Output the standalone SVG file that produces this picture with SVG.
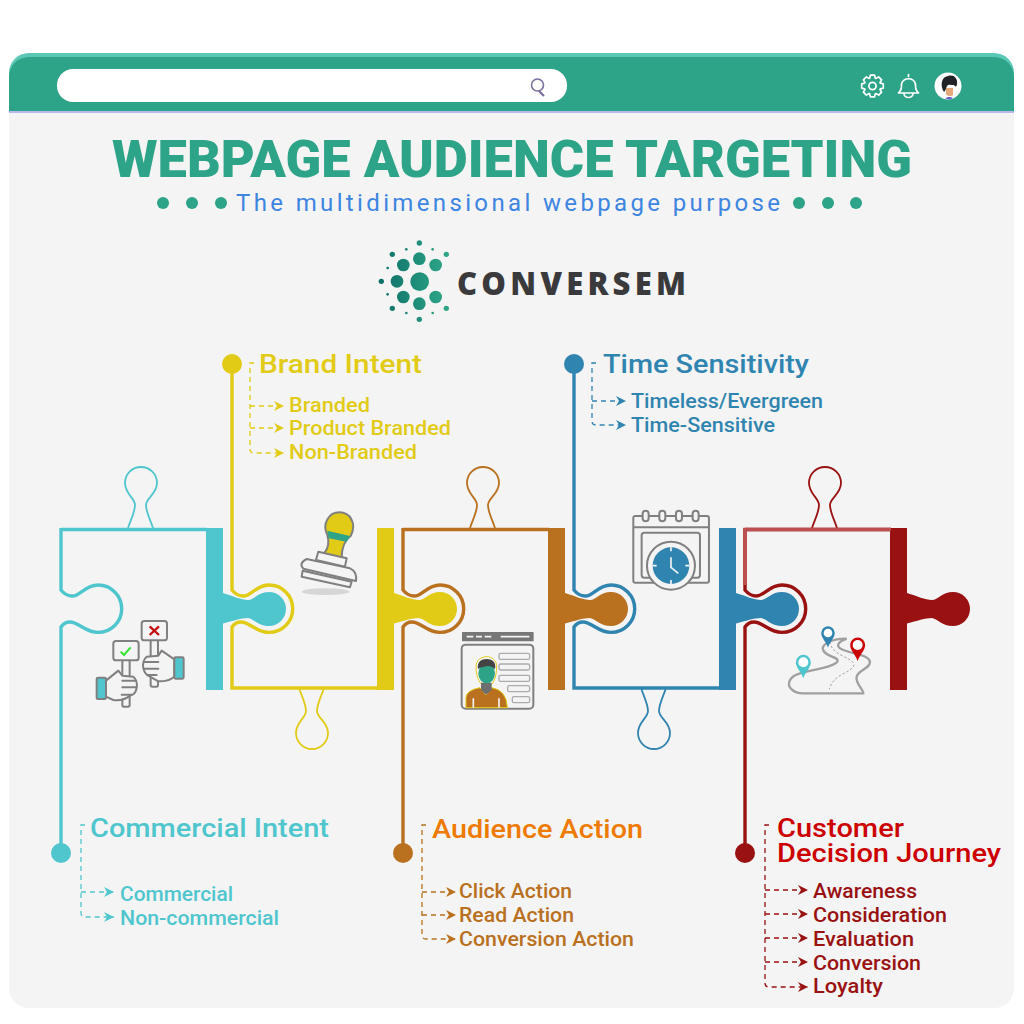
<svg xmlns="http://www.w3.org/2000/svg" width="1024" height="1024" viewBox="0 0 1024 1024">
<style>
text{font-family:"Roboto","Liberation Sans",sans-serif;font-weight:500}
.cyan{color:#4FC6CE}.yellow{color:#E2CB16}.brown{color:#B9701F}.blue{color:#3084B0}.red{color:#991111}
.line{fill:none;stroke:currentColor;stroke-width:3.4}
.tab{fill:none;stroke:currentColor;stroke-width:1.8}
.solid{fill:currentColor;stroke:none}
.h{font-size:25.500px;fill:currentColor}
.i{font-size:19.500px;fill:currentColor}
.dash{fill:none;stroke:currentColor;stroke-width:1.3;stroke-dasharray:5 4}
.ic{fill:#F4F4F4;stroke:#808080;stroke-width:6;stroke-linejoin:round;stroke-linecap:round}
.wl{fill:none;stroke:#fff;stroke-width:1.7;stroke-linejoin:round;stroke-linecap:round}
.dot{fill:#2DA387}
</style>
<defs>
<path id="outTop" d="M146,529.5H0M0,528V590C3,594 8,596 11,596C18,597 24,585 37,585A23.7,23.7 0 0 1 37,632.4C24,632.4 18,622 9,622C5,622 2,624 0,627V853"/>
<path id="outBot" d="M0,364V590C3,594 8,596 11,596C18,597 24,585 37,585A23.7,23.7 0 0 1 37,632.4C24,632.4 18,622 9,622C5,622 2,624 0,627V688H146"/>
<path id="tabTop" d="M67,528C70,519 74,512 74,505C74,498 64,494 64,483A16,16 0 0 1 96,483C96,494 85,498 85,505C85,512 89,519 92,528"/>
<path id="tabBot" d="M67,688C70,697 74,704 74,711C74,718 64,722 64,733A16,16 0 0 0 96,733C96,722 85,718 85,711C85,704 89,697 92,688"/>
<path id="bar" d="M145,528H162V593C172,596 180,600 187,600C193,600 197,592 208,592A17,17 0 0 1 208,626C197,626 193,619 187,618C180,618 172,621 162,623.5V690H145Z"/>
<path id="pin" d="M0,47C-7,27 -22,16 -22,0A22,22 0 1 1 22,0C22,16 7,27 0,47Z"/>
<linearGradient id="lg" gradientUnits="userSpaceOnUse" x1="30" y1="150" x2="235" y2="150"><stop offset="0" stop-color="#0E6F68"/><stop offset="1" stop-color="#2FA888"/></linearGradient>
<marker id="ac" markerUnits="userSpaceOnUse" markerWidth="10" markerHeight="10" refX="10" refY="5" orient="auto"><path d="M0,0L10,5L0,10L3,5Z" fill="#4FC6CE"/></marker>
<marker id="ay" markerUnits="userSpaceOnUse" markerWidth="10" markerHeight="10" refX="10" refY="5" orient="auto"><path d="M0,0L10,5L0,10L3,5Z" fill="#E2CB16"/></marker>
<marker id="ab" markerUnits="userSpaceOnUse" markerWidth="10" markerHeight="10" refX="10" refY="5" orient="auto"><path d="M0,0L10,5L0,10L3,5Z" fill="#B9701F"/></marker>
<marker id="al" markerUnits="userSpaceOnUse" markerWidth="10" markerHeight="10" refX="10" refY="5" orient="auto"><path d="M0,0L10,5L0,10L3,5Z" fill="#3084B0"/></marker>
<marker id="ar" markerUnits="userSpaceOnUse" markerWidth="10" markerHeight="10" refX="10" refY="5" orient="auto"><path d="M0,0L10,5L0,10L3,5Z" fill="#991111"/></marker>
</defs>

<rect width="1024" height="1024" fill="#fff"/>
<rect x="9" y="53" width="1005" height="955" rx="20" fill="#F4F4F4"/>

<g id="browser-bar">
<path d="M9,112V73A20,20 0 0 1 29,53H994A20,20 0 0 1 1014,73V112Z" fill="#5AC8B5"/>
<path d="M9,112V77A20,20 0 0 1 29,57H994A20,20 0 0 1 1014,77V112Z" fill="#2DA387"/>
<rect x="9" y="111" width="1005" height="2" fill="#B9B9EE"/>
<rect x="57" y="69" width="510" height="33" rx="16" fill="#fff"/>
<g fill="none" stroke="#7A6E9E" stroke-width="1.6"><circle cx="537.500" cy="85" r="6"/><path d="M539,91L544,96" stroke-width="2.2"/></g>
<g transform="translate(872.500,86)"><polygon class="wl" points="7.8,-2.84 10.8,-2.1 10.8,2.1 7.8,2.84 7.52,3.51 9.12,6.15 6.15,9.12 3.51,7.52 2.84,7.8 2.1,10.8 -2.1,10.8 -2.84,7.8 -3.51,7.52 -6.15,9.12 -9.12,6.15 -7.52,3.51 -7.8,2.84 -10.8,2.1 -10.8,-2.1 -7.8,-2.84 -7.52,-3.51 -9.12,-6.15 -6.15,-9.12 -3.51,-7.52 -2.84,-7.8 -2.1,-10.8 2.1,-10.8 2.84,-7.8 3.51,-7.52 6.15,-9.12 9.12,-6.15 7.52,-3.51"/><circle class="wl" r="3.600"/></g>
<path class="wl" d="M898.500,93H918.500C915,90 915.500,87 915.500,84A7.300,7.300 0 0 0 901.500,84C901.500,87 902,90 898.500,93ZM904,93.500A4.500,4 0 0 0 913,93.500M908.500,74.500V76.500"/>
<circle cx="948" cy="86" r="13.500" fill="#fff"/>
<path d="M946,94C947,96 951,97 953,95L953,88L946,88Z" fill="#E5A679"/>
<path d="M945,98.500Q949,96 953,98L950,99.500Z" fill="#6A5ACD"/>
<path d="M944,92C940,86 941,77 948,76C955,74 958,80 957,84C957,87 955,87 954,85C951,85 948,84 947,86C946,88 946,90 944,92Z" fill="#1F2226"/>
</g>

<g id="title">
<text x="112" y="177" font-size="51" textLength="800" lengthAdjust="spacingAndGlyphs" style="font-weight:900" fill="#2DA387">WEBPAGE AUDIENCE TARGETING</text>
<text x="236" y="211" font-size="24" textLength="544" style="font-weight:400" fill="#3D85E0">The multidimensional webpage purpose</text>
<circle class="dot" cx="163" cy="203" r="6"/><circle class="dot" cx="192" cy="203" r="6"/><circle class="dot" cx="221" cy="203" r="6"/>
<circle class="dot" cx="799" cy="203" r="6"/><circle class="dot" cx="828" cy="203" r="6"/><circle class="dot" cx="856" cy="203" r="6"/>
</g>

<g id="logo">
<g transform="translate(370,230) scale(.3333)" fill="url(#lg)">
<circle cx="149" cy="155" r="28"/><circle cx="148" cy="86" r="19"/><circle cx="100" cy="105" r="19"/><circle cx="197" cy="105" r="19"/><circle cx="81" cy="154" r="19"/><circle cx="100" cy="201" r="19"/><circle cx="148" cy="221" r="19"/><circle cx="197" cy="201" r="19"/>
<circle cx="148" cy="39" r="8"/><circle cx="67" cy="73" r="8"/><circle cx="229" cy="73" r="8"/><circle cx="34" cy="154" r="8"/><circle cx="67" cy="235" r="8"/><circle cx="229" cy="235" r="8"/><circle cx="148" cy="268" r="8"/>
<circle cx="109" cy="58" r="4"/><circle cx="188" cy="58" r="4"/><circle cx="53" cy="114" r="4"/><circle cx="53" cy="193" r="4"/><circle cx="109" cy="249" r="4"/><circle cx="188" cy="249" r="4"/>
</g>
<text x="457" y="295" font-size="31" textLength="229" style="font-family:'Open Sans','Liberation Sans',sans-serif;font-weight:800" fill="#3A3A3C">CONVERSEM</text>
</g>

<g id="piece-commercial-intent" class="cyan">
<g transform="translate(61,0)"><use href="#outTop" class="line"/><use href="#tabTop" class="tab"/><use href="#bar" class="solid"/></g>
<circle class="solid" cx="61" cy="853" r="10"/>
<text class="h" x="90" y="837" textLength="239" lengthAdjust="spacingAndGlyphs">Commercial Intent</text>
<text class="i" x="120" y="901" textLength="113" lengthAdjust="spacingAndGlyphs">Commercial</text>
<text class="i" x="120" y="925" textLength="159" lengthAdjust="spacingAndGlyphs">Non-commercial</text>
</g>

<g id="piece-brand-intent" class="yellow">
<g transform="translate(232,0)"><use href="#outBot" class="line"/><use href="#tabBot" class="tab"/><use href="#bar" class="solid"/></g>
<circle class="solid" cx="232" cy="364" r="10"/>
<text class="h" x="259" y="373" textLength="163" lengthAdjust="spacingAndGlyphs">Brand Intent</text>
<text class="i" x="289" y="412" textLength="81" lengthAdjust="spacingAndGlyphs">Branded</text>
<text class="i" x="289" y="435" textLength="162" lengthAdjust="spacingAndGlyphs">Product Branded</text>
<text class="i" x="289" y="459" textLength="128" lengthAdjust="spacingAndGlyphs">Non-Branded</text>
</g>

<g id="piece-audience-action" class="brown">
<g transform="translate(403,0)"><use href="#outTop" class="line"/><use href="#tabTop" class="tab"/><use href="#bar" class="solid"/></g>
<circle class="solid" cx="403" cy="853" r="10"/>
<text class="h" x="432" y="838" textLength="211" lengthAdjust="spacingAndGlyphs" style="fill:#EE7A00">Audience Action</text>
<text class="i" x="459" y="898" textLength="113" lengthAdjust="spacingAndGlyphs">Click Action</text>
<text class="i" x="459" y="922" textLength="115" lengthAdjust="spacingAndGlyphs">Read Action</text>
<text class="i" x="459" y="946" textLength="175" lengthAdjust="spacingAndGlyphs">Conversion Action</text>
</g>

<g id="piece-time-sensitivity" class="blue">
<g transform="translate(574,0)"><use href="#outBot" class="line"/><use href="#tabBot" class="tab"/><use href="#bar" class="solid"/></g>
<circle class="solid" cx="574" cy="364" r="10"/>
<text class="h" x="603" y="373" textLength="206" lengthAdjust="spacingAndGlyphs">Time Sensitivity</text>
<text class="i" x="631" y="408" textLength="192" lengthAdjust="spacingAndGlyphs">Timeless/Evergreen</text>
<text class="i" x="631" y="432" textLength="144" lengthAdjust="spacingAndGlyphs">Time-Sensitive</text>
</g>

<g id="piece-customer-decision-journey" class="red">
<g transform="translate(745,0)"><use href="#outTop" class="line"/><use href="#tabTop" class="tab"/><use href="#bar" class="solid"/></g>
<path d="M891,529.500H745V585" fill="none" stroke="#BC5050" stroke-width="3.400"/>
<circle class="solid" cx="745" cy="853" r="10"/>
<text class="h" style="fill:#CC0000"><tspan x="777" y="837" textLength="127" lengthAdjust="spacingAndGlyphs">Customer</tspan><tspan x="777" y="862" textLength="224" lengthAdjust="spacingAndGlyphs">Decision Journey</tspan></text>
<text class="i" x="813" y="898" textLength="104" lengthAdjust="spacingAndGlyphs">Awareness</text>
<text class="i" x="813" y="922" textLength="134" lengthAdjust="spacingAndGlyphs">Consideration</text>
<text class="i" x="813" y="946" textLength="101" lengthAdjust="spacingAndGlyphs">Evaluation</text>
<text class="i" x="813" y="970" textLength="108" lengthAdjust="spacingAndGlyphs">Conversion</text>
<text class="i" x="813" y="993" textLength="70" lengthAdjust="spacingAndGlyphs">Loyalty</text>
</g>

<g id="connectors">
<g class="cyan"><path class="dash" d="M85,825H81V913Q81,917 85,917H114" marker-end="url(#ac)"/><path class="dash" d="M81,892H114" marker-end="url(#ac)"/></g>
<g class="yellow"><path class="dash" d="M254,363H250V449Q250,453 254,453H284" marker-end="url(#ay)"/><path class="dash" d="M250,406H284" marker-end="url(#ay)"/><path class="dash" d="M250,428H284" marker-end="url(#ay)"/></g>
<g class="brown"><path class="dash" d="M426,825H422V935Q422,939 426,939H456" marker-end="url(#ab)"/><path class="dash" d="M422,892H456" marker-end="url(#ab)"/><path class="dash" d="M422,915H456" marker-end="url(#ab)"/></g>
<g class="blue"><path class="dash" d="M596,363H592V421Q592,425 596,425H626" marker-end="url(#al)"/><path class="dash" d="M592,401H626" marker-end="url(#al)"/></g>
<g class="red"><path class="dash" d="M769,825H765V983Q765,987 769,987H808" marker-end="url(#ar)"/><path class="dash" d="M765,890H808" marker-end="url(#ar)"/><path class="dash" d="M765,914H808" marker-end="url(#ar)"/><path class="dash" d="M765,938H808" marker-end="url(#ar)"/><path class="dash" d="M765,962H808" marker-end="url(#ar)"/></g>
</g>

<g id="icon-hands" transform="translate(40,460) scale(.3333)">
<rect class="ic" x="247" y="600" width="22" height="140" rx="5"/>
<rect class="ic" x="220" y="543" width="76" height="58" rx="8"/>
<path d="M242,575L252,585L272,562" fill="none" stroke="#33E62E" stroke-width="6"/>
<path class="ic" d="M198,662L235,632L247,647L280,650Q294,662 290,685Q285,705 272,706Q245,725 220,720L198,710Z"/>
<path class="ic" d="M247,662H288M247,682H288M245,704H274"/>
<rect x="170" y="653" width="28" height="64" rx="4" fill="#4FC6CE" stroke="#808080" stroke-width="6"/>
<rect class="ic" x="332" y="540" width="22" height="140" rx="5"/>
<rect class="ic" x="305" y="483" width="76" height="58" rx="8"/>
<path d="M329,499L357,525M357,499L329,525" fill="none" stroke="#C40F0F" stroke-width="7"/>
<path class="ic" d="M403,598L365,572L355,587L320,590Q306,602 310,625Q315,645 330,650L355,664Q385,665 403,650Z"/>
<path class="ic" d="M312,606H355M312,626H355M322,645H350"/>
<rect x="403" y="592" width="28" height="64" rx="4" fill="#4FC6CE" stroke="#808080" stroke-width="6"/>
</g>

<g id="icon-stamp" transform="translate(40,460) scale(.3333)">
<ellipse cx="857" cy="395" rx="72" ry="10" fill="#D6D6D6"/>
<path d="M862,225C845,190 868,157 898,157C930,157 952,190 932,228C915,240 905,265 905,295L852,280C868,262 868,245 862,225Z" fill="#E2CB16" stroke="#808080" stroke-width="6"/>
<path d="M862,212L930,228L920,245L866,235Z" fill="#2DA387"/>
<path class="ic" d="M835,275L920,295L915,320L828,300Z"/>
<path class="ic" d="M788,332L935,365L930,382L785,350Z"/>
<path class="ic" d="M800,297L930,325Q952,335 948,363L790,326Q775,310 800,297Z"/>
</g>

<g id="icon-profile" transform="translate(380,460) scale(.3333)">
<rect x="246" y="516" width="215" height="28" rx="2" fill="#777"/>
<path d="M260,530H280M288,530H306M314,530H334M362,530H448" stroke="#F4F4F4" stroke-width="5"/>
<rect class="ic" x="245" y="554" width="215" height="192" rx="12"/>
<g fill="none" stroke="#ABABAB" stroke-width="4"><rect x="357" y="580" width="92" height="18" rx="5"/><rect x="357" y="612" width="92" height="18" rx="5"/><rect x="357" y="646" width="92" height="18" rx="5"/><rect x="383" y="677" width="66" height="18" rx="5"/><rect x="397" y="710" width="52" height="18" rx="5"/></g>
<path d="M288,620C288,600 305,590 320,590C335,590 350,600 350,620C350,650 340,680 320,680C300,680 288,650 288,620Z" fill="#F4F4F4" stroke="#E2CB16" stroke-width="3"/>
<path d="M258,743V712Q260,690 300,683L318,705L335,683Q380,690 382,743Z" fill="#B9701F" stroke="#E2CB16" stroke-width="3"/>
<path d="M303,668H335V690L318,704L303,690Z" fill="#6E6E6E"/>
<ellipse cx="320" cy="640" rx="25" ry="30" fill="#2DA387"/>
<path d="M294,628C290,605 305,597 320,597C335,597 350,605 345,628C340,620 325,615 312,620C303,622 298,622 294,628Z" fill="#444"/>
<path d="M280,715V743M357,715V743" stroke="#F4F4F4" stroke-width="5"/>
</g>

<g id="icon-calendar" transform="translate(380,460) scale(.3333)">
<rect class="ic" x="760" y="168" width="227" height="200" rx="6"/>
<path d="M760,202H987" stroke="#808080" stroke-width="6"/>
<g class="ic"><rect x="788" y="152" width="18" height="32" rx="9"/><rect x="838" y="152" width="18" height="32" rx="9"/><rect x="888" y="152" width="18" height="32" rx="9"/><rect x="938" y="152" width="18" height="32" rx="9"/></g>
<rect class="ic" x="785" y="218" width="175" height="135" rx="8"/>
<circle class="ic" cx="873" cy="317" r="72"/>
<circle cx="873" cy="317" r="55" fill="#3084B0"/>
<path d="M873,292V322L895,340M873,262V274M873,360V372M818,317H830M916,317H928" fill="none" stroke="#F4F4F4" stroke-width="5"/>
</g>

<g id="icon-road" transform="translate(700,460) scale(.3333)">
<path d="M440,536C400,535 370,550 368,565C370,590 420,590 412,605C400,622 340,628 300,640C265,650 260,675 275,688C285,698 300,700 310,700H490C492,690 465,670 470,650C475,630 512,625 510,605C505,585 470,585 430,570C410,562 405,550 440,536" fill="none" stroke="#A0A0A0" stroke-width="7"/>
<path d="M390,545C395,590 460,590 462,615C455,640 400,640 388,688" fill="none" stroke="#A0A0A0" stroke-width="3" stroke-dasharray="7 6"/>
<use href="#pin" transform="translate(310,607) scale(1.020)" fill="#4FC6CE"/><circle cx="310" cy="607" r="15" fill="#fff"/>
<use href="#pin" transform="translate(384,519) scale(.92)" fill="#3084B0"/><circle cx="384" cy="519" r="13" fill="#fff"/>
<use href="#pin" transform="translate(473,555) scale(1.020)" fill="#CC0000"/><circle cx="473" cy="555" r="15" fill="#fff"/>
</g>
</svg>
